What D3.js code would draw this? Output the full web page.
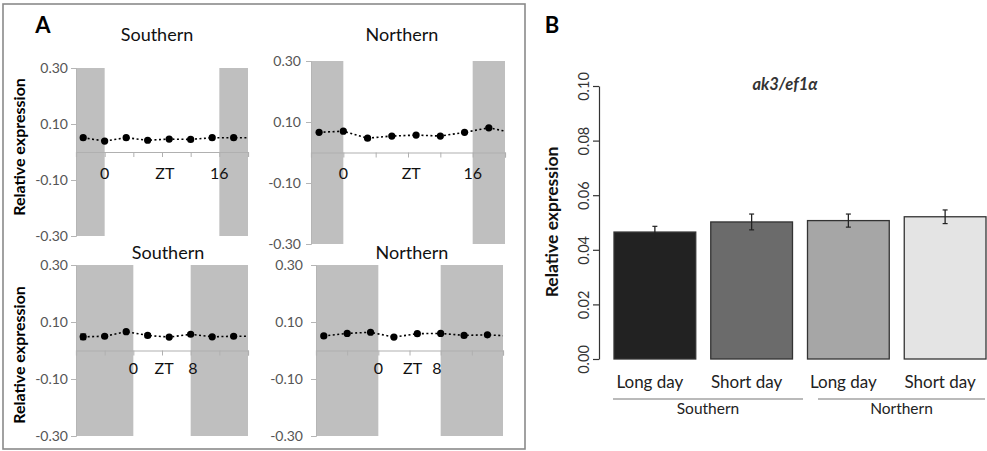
<!DOCTYPE html>
<html><head><meta charset="utf-8">
<script src="https://cdn.jsdelivr.net/npm/d3@7"></script>
<style>
body{margin:0;background:#fff;}
text{font-family:Lato,"Open Sans",sans-serif;}
</style></head>
<body><svg id="c" width="987" height="451"></svg>
<script>
// ---------- DATA ----------
const ztLong = [-3, 0, 3, 6, 9, 12, 15, 18];
const ztShort = [-7, -4, -1, 2, 5, 8, 11, 14];
const southernLong = [0.051, 0.039, 0.051, 0.042, 0.046, 0.045, 0.051, 0.051];
const northernLong = [0.066, 0.070, 0.047, 0.054, 0.057, 0.054, 0.066, 0.081];
const southernShort = [0.048, 0.050, 0.066, 0.053, 0.047, 0.057, 0.048, 0.050];
const northernShort = [0.051, 0.060, 0.064, 0.047, 0.059, 0.060, 0.053, 0.055];
const southernShortErr = [0.010, 0.004, 0.004, 0.006, 0.004, 0.004, 0.004, 0.004];
const smallErr = [0.003, 0.003, 0.003, 0.003, 0.003, 0.003, 0.003, 0.003];
const edgeValues = [0.051, 0.070, 0.050, 0.052]; // where each dotted line leaves the plot
const yTicksA = [0.30, 0.10, -0.10, -0.30];

const categoriesB = ["Long day", "Short day", "Long day ", "Short day "];
const groupsB = ["Southern", "Northern"];
const valuesB = [0.0465, 0.0502, 0.0507, 0.0521];
const errorsB = [0.0021, 0.0029, 0.0024, 0.0025];
const colorsB = ["#222222", "#6b6b6b", "#a6a6a6", "#e4e4e4"];
const yTicksB = [0.00, 0.02, 0.04, 0.06, 0.08, 0.10];

const svg = d3.select("#c");
const fmt = d => d3.format(".2f")(d).replace("\u2212", "-");

// ---------- PANEL A ----------
svg.append("rect").attr("x", 3).attr("y", 4).attr("width", 522).attr("height", 445)
  .attr("fill", "none").attr("stroke", "#8a8a8a").attr("stroke-width", 1.6);
svg.append("text").attr("x", 43).attr("y", 33).attr("text-anchor", "middle")
  .attr("font-size", 22).attr("font-weight", "bold").text("A");

const panels = [
  {title: "Southern", tx: 157, ty: 41, x0: 76, x1: 248, yTop: 68, yBot: 236, dom: [-4, 20], light: [0, 16],
   zt: ztLong, vals: southernLong, err: smallErr, edge: edgeValues[0], lab: ["0", "ZT", "16"], labZ: [0, 8.4, 16], labY: 179, ylab: 147, tickLabX: 68},
  {title: "Northern", tx: 402, ty: 41, x0: 311, x1: 505, yTop: 61, yBot: 244, dom: [-4, 20], light: [0, 16],
   zt: ztLong, vals: northernLong, err: smallErr, edge: edgeValues[1], lab: ["0", "ZT", "16"], labZ: [0, 8.4, 16], labY: 179, ylab: null, tickLabX: 301},
  {title: "Southern", tx: 168, ty: 259, x0: 76, x1: 248, yTop: 265, yBot: 436, dom: [-8, 16], light: [0, 8],
   zt: ztShort, vals: southernShort, err: southernShortErr, edge: edgeValues[2], lab: ["0", "ZT", "8"], labZ: [0, 4.3, 8.3], labY: 374, ylab: 355, tickLabX: 68},
  {title: "Northern", tx: 412, ty: 259, x0: 316, x1: 503, yTop: 265, yBot: 436, dom: [-8, 16], light: [0, 8],
   zt: ztShort, vals: northernShort, err: smallErr, edge: edgeValues[3], lab: ["0", "ZT", "8"], labZ: [0, 4.4, 7.5], labY: 374, ylab: null, tickLabX: 303}
];

panels.forEach((p, i) => {
  const g = svg.append("g");
  const x = d3.scaleLinear().domain(p.dom).range([p.x0, p.x1]);
  const y = d3.scaleLinear().domain([-0.30, 0.30]).range([p.yBot, p.yTop]);
  const nights = [[p.dom[0], p.light[0]], [p.light[1], p.dom[1]]];
  g.selectAll("rect.n").data(nights).join("rect")
    .attr("x", d => x(d[0])).attr("width", d => x(d[1]) - x(d[0]))
    .attr("y", y(0.30)).attr("height", y(-0.30) - y(0.30)).attr("fill", "#bfbfbf");
  const ya = d3.axisLeft(y).tickValues(yTicksA).tickFormat(fmt).tickSize(5).tickPadding(3);
  const yg = g.append("g").attr("transform", `translate(${p.x0},0)`).call(ya);
  yg.select(".domain").attr("stroke", "#b5b5b5");
  yg.selectAll(".tick line").attr("stroke", "#b5b5b5");
  yg.selectAll(".tick text").attr("font-size", 14).attr("fill", "#555")
    .attr("x", p.tickLabX - p.x0);
  const xa = d3.axisBottom(x).tickValues(d3.range(p.dom[0], p.dom[1] + 1, 4)).tickSize(5).tickFormat("");
  const xg = g.append("g").attr("transform", `translate(0,${y(0)})`).call(xa);
  xg.select(".domain").attr("stroke", "#b0b0b0").attr("stroke-width", 1.2);
  xg.selectAll(".tick line").attr("stroke", "#b0b0b0");
  g.selectAll("text.zl").data(p.lab).join("text")
    .attr("x", (d, k) => x(p.labZ[k])).attr("y", p.labY).attr("text-anchor", "middle")
    .attr("font-size", 16).attr("fill", "#111").text(d => d);
  const cid = "clipA" + i;
  g.append("clipPath").attr("id", cid).append("rect")
    .attr("x", p.x0).attr("y", p.yTop).attr("width", p.x1 - p.x0).attr("height", p.yBot - p.yTop);
  const pts = p.zt.map((z, k) => [z, p.vals[k]]);
  const linePts = pts.concat([[p.dom[1], p.edge]]);
  g.append("path").datum(linePts).attr("clip-path", `url(#${cid})`)
    .attr("d", d3.line().x(d => x(d[0])).y(d => y(d[1])))
    .attr("fill", "none").attr("stroke", "#000").attr("stroke-width", 1.6).attr("stroke-dasharray", "2,2.5");
  g.selectAll("line.e").data(pts).join("line")
    .attr("x1", d => x(d[0])).attr("x2", d => x(d[0]))
    .attr("y1", (d, k) => y(d[1] - p.err[k])).attr("y2", (d, k) => y(d[1] + p.err[k]))
    .attr("stroke", "#000").attr("stroke-width", 1);
  g.selectAll("line.ec").data(pts.flatMap((d, k) => [[d[0], d[1] - p.err[k]], [d[0], d[1] + p.err[k]]])).join("line")
    .attr("x1", d => x(d[0]) - 3).attr("x2", d => x(d[0]) + 3)
    .attr("y1", d => y(d[1])).attr("y2", d => y(d[1])).attr("stroke", "#000");
  g.selectAll("circle").data(pts).join("circle")
    .attr("cx", d => x(d[0])).attr("cy", d => y(d[1])).attr("r", 3.6).attr("fill", "#000");
  g.append("text").attr("x", p.tx).attr("y", p.ty).attr("text-anchor", "middle")
    .attr("font-size", 18).attr("fill", "#111").text(p.title);
  if (p.ylab !== null) {
    g.append("text").attr("transform", `translate(25,${p.ylab}) rotate(-90)`)
      .attr("text-anchor", "middle").attr("font-size", 16).attr("font-weight", "bold").text("Relative expression");
  }
});

// ---------- PANEL B ----------
svg.append("text").attr("x", 552).attr("y", 33).attr("text-anchor", "middle")
  .attr("font-size", 22).attr("font-weight", "bold").text("B");
const xb = d3.scaleBand().domain(categoriesB).range([606.5, 993.5]).paddingInner(0.155).paddingOuter(0.0775);
const yb = d3.scaleLinear().domain([0, 0.10]).range([359, 86]);
const gb = svg.append("g");
const yba = d3.axisLeft(yb).tickValues(yTicksB).tickFormat(fmt).tickSize(6).tickSizeOuter(0);
const ybg = gb.append("g").attr("transform", "translate(599,0)").call(yba);
ybg.select(".domain").attr("stroke", "#333").attr("stroke-width", 1.2);
ybg.selectAll(".tick line").attr("stroke", "#333").attr("stroke-width", 1.2);
ybg.selectAll(".tick text").attr("font-size", 14.5).attr("fill", "#333")
  .attr("x", 0).attr("y", 0).attr("dy", "0.35em").attr("text-anchor", "middle")
  .attr("transform", "translate(-15,0) rotate(-90)");
gb.selectAll("rect.bar").data(valuesB).join("rect")
  .attr("x", (d, i) => xb(categoriesB[i])).attr("width", xb.bandwidth())
  .attr("y", d => yb(d)).attr("height", d => yb(0) - yb(d))
  .attr("fill", (d, i) => colorsB[i]).attr("stroke", "#333").attr("stroke-width", 1.3);
const cx = i => xb(categoriesB[i]) + xb.bandwidth() / 2;
gb.selectAll("line.eb").data(valuesB).join("line")
  .attr("x1", (d, i) => cx(i)).attr("x2", (d, i) => cx(i))
  .attr("y1", (d, i) => yb(d - errorsB[i])).attr("y2", (d, i) => yb(d + errorsB[i]))
  .attr("stroke", "#222").attr("stroke-width", 1.3);
gb.selectAll("line.ebc").data(valuesB.flatMap((d, i) => [[i, d - errorsB[i]], [i, d + errorsB[i]]])).join("line")
  .attr("x1", d => cx(d[0]) - 2.5).attr("x2", d => cx(d[0]) + 2.5)
  .attr("y1", d => yb(d[1])).attr("y2", d => yb(d[1])).attr("stroke", "#222").attr("stroke-width", 1.2);
gb.selectAll("text.cat").data(categoriesB).join("text")
  .attr("x", d => xb(d) + xb.bandwidth() / 2 - 5).attr("y", 388).attr("text-anchor", "middle")
  .attr("font-size", 17).attr("fill", "#222").text(d => d.trim());
const groupSpans = [[613, 803], [818, 985]];
gb.selectAll("line.grp").data(groupSpans).join("line")
  .attr("x1", d => d[0]).attr("x2", d => d[1]).attr("y1", 399).attr("y2", 399)
  .attr("stroke", "#777").attr("stroke-width", 1.2);
gb.selectAll("text.grp").data(groupsB).join("text")
  .attr("x", (d, i) => (groupSpans[i][0] + groupSpans[i][1]) / 2).attr("y", 414).attr("text-anchor", "middle")
  .attr("font-size", 15.5).attr("fill", "#222").text(d => d);
gb.append("text").attr("x", 785).attr("y", 90).attr("text-anchor", "middle")
  .attr("font-size", 16.5).attr("font-style", "italic").attr("font-weight", "bold").attr("fill", "#333").text("ak3/ef1α");
gb.append("text").attr("transform", "translate(558,222) rotate(-90)").attr("text-anchor", "middle")
  .attr("font-size", 17.5).attr("font-weight", "bold").attr("fill", "#111").text("Relative expression");
</script></body></html>
